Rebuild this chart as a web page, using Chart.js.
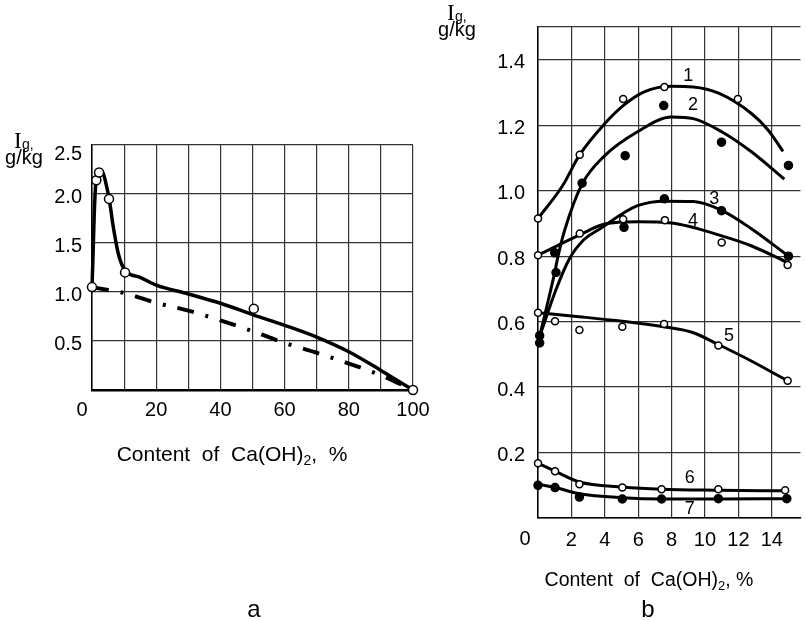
<!DOCTYPE html>
<html>
<head>
<meta charset="utf-8">
<script src="https://cdn.jsdelivr.net/npm/chart.js@4"></script>
<style>
  html, body { margin: 0; padding: 0; background: #fff; }
  #wrap { position: relative; width: 806px; height: 621px; overflow: hidden; }
  canvas { position: absolute; top: 0; }
  #ca { left: 0; }
  #cb { left: 430px; }
</style>
</head>
<body>
<div id="wrap">
  <canvas id="ca" width="440" height="621"></canvas>
  <canvas id="cb" width="376" height="621"></canvas>
</div>
<script>
// ---- panel a: I_g vs Ca(OH)2 content 0..100 % ----
const aXTicks = [0, 10, 20, 30, 40, 50, 60, 70, 80, 90, 100];
const aXLabels = ["0", "", "20", "", "40", "", "60", "", "80", "", "100"];
const aYTicks = [0, 0.5, 1, 1.5, 2, 2.5];
const aYLabels = ["", "0.5", "1.0", "1.5", "2.0", "2.5"];

const aCurve = [[0, 1.05], [0.3, 1.35], [0.7, 1.8], [1.2, 2.12], [1.8, 2.22], [2.4, 2.24],
                [3.5, 2.21], [4.6, 2.07], [5.4, 1.94], [6.6, 1.67], [8.2, 1.39], [10.3, 1.22],
                [15, 1.15], [20, 1.07], [30, 0.98], [40, 0.885], [50, 0.77], [60, 0.66],
                [70, 0.54], [80, 0.39], [90, 0.2], [100, 0]];
const aPoints = [[0, 1.05], [1.35, 2.14], [2.2, 2.22], [5.3, 1.95], [10.3, 1.2], [50.4, 0.83], [100, 0]];
const aDashed = [[0, 1.05], [5, 1.02], [10, 0.99], [20, 0.89], [30, 0.81], [40, 0.71], [50, 0.6],
                 [60, 0.48], [70, 0.38], [80, 0.27], [90, 0.15], [100, 0]];

// ---- panel b: I_g vs Ca(OH)2 content 0..15 %, curves 1..7 ----
const bXTicks = [0, 2, 4, 6, 8, 10, 12, 14];
const bXLabels = ["0", "2", "4", "6", "8", "10", "12", "14"];
const bYTicks = [0, 0.2, 0.4, 0.6, 0.8, 1.0, 1.2, 1.4, 1.5];
const bYLabels = ["", "0.2", "0.4", "0.6", "0.8", "1.0", "1.2", "1.4", ""];

const b1Curve = [[0, 0.915], [1.47, 1.015], [2.5, 1.11], [4, 1.205], [5.1, 1.26], [6.36, 1.302], [8, 1.319],
                 [9.3, 1.317], [10.85, 1.297], [12.8, 1.235], [13.8, 1.184], [14.67, 1.12]];
const b2Curve = [[0.1, 0.555], [1.0, 0.75], [1.2, 0.8], [1.6, 0.88], [2.64, 1.02], [4, 1.107], [5.96, 1.18],
                 [8, 1.225], [9.3, 1.22], [11, 1.18], [12.8, 1.118], [14.75, 1.035]];
const b3Curve = [[0.1, 0.555], [1.08, 0.698], [1.86, 0.79], [2.74, 0.85], [3.6, 0.88], [5.96, 0.954],
                 [7.6, 0.968], [9.3, 0.967], [11, 0.94], [12.8, 0.883], [15, 0.8]];
const b4Curve = [[0, 0.803], [2.5, 0.865], [4, 0.898], [5.96, 0.905], [8, 0.901], [11, 0.862],
                 [12.8, 0.831], [14.95, 0.78]];
const b5Curve = [[0, 0.627], [2.45, 0.615], [5.05, 0.601], [7.55, 0.584], [9.3, 0.566], [10.8, 0.53],
                 [12.8, 0.479], [14.95, 0.419]];
const b6Curve = [[0, 0.167], [1.02, 0.143], [2.48, 0.11], [5.05, 0.095], [7.4, 0.088], [10.8, 0.085], [14.8, 0.083]];
const b7Curve = [[0, 0.103], [1.02, 0.093], [2.48, 0.074], [5.05, 0.062], [7.4, 0.058], [10.8, 0.058], [14.9, 0.059]];

const b1Points = [[0, 0.915], [2.5, 1.11], [5.1, 1.28], [7.57, 1.317], [11.97, 1.28]];
const b2Points = [[0.1, 0.557], [1.08, 0.75], [2.64, 1.023], [5.22, 1.107], [7.53, 1.26], [10.99, 1.148], [15, 1.077]];
const b3Points = [[0.1, 0.535], [1.0, 0.81], [5.15, 0.888], [7.57, 0.975], [10.99, 0.939], [15, 0.8]];
const b4Points = [[0, 0.803], [2.5, 0.869], [5.1, 0.913], [7.6, 0.91], [11, 0.842], [14.95, 0.773]];
const b5Points = [[0, 0.627], [1.02, 0.601], [2.48, 0.574], [5.05, 0.584], [7.55, 0.593], [10.8, 0.527], [14.95, 0.419]];
const b6Points = [[0, 0.167], [1.02, 0.143], [2.48, 0.103], [5.05, 0.093], [7.4, 0.088], [10.8, 0.088], [14.8, 0.085]];
const b7Points = [[0, 0.1], [1.02, 0.093], [2.48, 0.064], [5.05, 0.058], [7.4, 0.058], [10.8, 0.059], [14.9, 0.059]];

// curve numbers, placed in data units
const bTags = [["1", 9.0, 1.351], ["2", 9.29, 1.263], ["3", 10.56, 0.975], ["4", 9.29, 0.908],
               ["5", 11.44, 0.555], ["6", 9.09, 0.121], ["7", 9.09, 0.026]];

const SANS = '"Liberation Sans", Arial, sans-serif';
const SERIF = '"Liberation Serif", "Times New Roman", serif';
const GRID = "#333";

Chart.defaults.font.family = SANS;
Chart.defaults.color = "#000";
Chart.defaults.animation = false;

const xy = pts => pts.map(([x, y]) => ({ x, y }));

const curve = (pts, extra = {}) => Object.assign({
  data: xy(pts), borderColor: "#000", borderWidth: 3, pointRadius: 0,
  cubicInterpolationMode: "monotone", fill: false, order: 2, clip: false,
}, extra);

const marks = (pts, filled, r) => ({
  data: xy(pts), showLine: false, pointRadius: r, pointHoverRadius: r,
  pointBackgroundColor: filled ? "#000" : "#fff", pointBorderColor: "#000",
  pointBorderWidth: 1.5, order: 1, clip: false,
});

// draws text made of pieces (for the Ca(OH)2 subscript), centred on cx
function drawParts(ctx, parts, cx, base) {
  ctx.textAlign = "left";
  ctx.textBaseline = "alphabetic";
  let w = 0;
  parts.forEach(p => { ctx.font = p.f; w += ctx.measureText(p.t).width; });
  let x = cx - w / 2;
  parts.forEach(p => {
    ctx.font = p.f;
    ctx.fillText(p.t, x, base + (p.dy || 0));
    x += ctx.measureText(p.t).width;
  });
}

function yTitle(ctx, x, base) {
  ctx.textAlign = "left";
  ctx.textBaseline = "alphabetic";
  ctx.font = `23px ${SERIF}`;
  ctx.fillText("I", x, base);
  ctx.font = `14px ${SANS}`;
  ctx.fillText("g,", x + 8, base + 1);
  ctx.font = `20px ${SANS}`;
  ctx.textAlign = "center";
  ctx.fillText("g/kg", x + 10, base + 16);
}

function axes(xTicks, xLabels, yTicks, yLabels, xMax, yMax, yWidth, xPad, yPad, xBorderW, topLabel) {
  return {
    x: {
      type: "linear", min: 0, max: xMax,
      afterBuildTicks: s => { s.ticks = xTicks.map(v => ({ value: v })); },
      afterFit: s => { s.height = 40; },
      ticks: { autoSkip: false, maxRotation: 0, padding: xPad, font: { size: 20 },
               callback: (v, i) => (i === 0 ? "" : xLabels[i]) },
      grid: { color: GRID, lineWidth: 1.2, drawTicks: false },
      border: { color: "#000", width: xBorderW },
    },
    y: {
      type: "linear", min: 0, max: yMax,
      afterBuildTicks: s => { s.ticks = yTicks.map(v => ({ value: v })); },
      afterFit: s => { s.width = yWidth; },
      ticks: { autoSkip: false, padding: yPad, labelOffset: 3, font: { size: 20 },
               callback: (v, i) => (topLabel && i === yTicks.length - 1 ? "" : yLabels[i]) },
      grid: { color: GRID, lineWidth: 1.2, drawTicks: false },
      border: { color: "#000", width: 1.5 },
    },
  };
}

const textA = {
  id: "textA",
  afterDraw(chart) {
    const { ctx, scales: { x, y } } = chart;
    ctx.save();
    ctx.fillStyle = "#000";
    ctx.font = `20px ${SANS}`;
    ctx.textAlign = "center";
    ctx.textBaseline = "middle";
    ctx.fillText(aXLabels[0], x.getPixelForValue(0) - 10, y.getPixelForValue(0) + 20);
    // top y label sits a little below its grid line in the original
    ctx.textAlign = "right";
    ctx.fillText(aYLabels[aYLabels.length - 1], x.left - 10, y.getPixelForValue(2.5) + 9);
    yTitle(ctx, 14, 148);
    drawParts(ctx, [
      { t: "Content  of  Ca(OH)", f: `21px ${SANS}` },
      { t: "2", f: `14px ${SANS}`, dy: 4 },
      { t: ",  %", f: `21px ${SANS}` },
    ], 232, 461);
    ctx.font = `24px ${SANS}`;
    ctx.textAlign = "center";
    ctx.fillText("a", 254, 617);
    ctx.restore();
  },
};

const textB = {
  id: "textB",
  afterDraw(chart) {
    const { ctx, scales: { x, y } } = chart;
    ctx.save();
    ctx.fillStyle = "#000";
    ctx.font = `20px ${SANS}`;
    ctx.textAlign = "center";
    ctx.textBaseline = "middle";
    ctx.fillText(bXLabels[0], x.getPixelForValue(0) - 13, y.getPixelForValue(0) + 21);
    ctx.font = `18px ${SANS}`;
    bTags.forEach(([t, vx, vy]) => ctx.fillText(t, x.getPixelForValue(vx), y.getPixelForValue(vy)));
    yTitle(ctx, 17, 20);
    drawParts(ctx, [
      { t: "Content  of  Ca(OH)", f: `19.5px ${SANS}` },
      { t: "2", f: `13px ${SANS}`, dy: 4 },
      { t: ", %", f: `19.5px ${SANS}` },
    ], 219, 586);
    ctx.font = `24px ${SANS}`;
    ctx.textAlign = "center";
    ctx.fillText("b", 218, 617);
    ctx.restore();
  },
};

new Chart(document.getElementById("ca"), {
  type: "line",
  data: {
    datasets: [
      marks(aPoints, false, 4.5),
      curve(aCurve, { borderWidth: 3.5 }),
      curve(aDashed, { borderWidth: 4, borderDash: [17, 12, 3, 12], borderCapStyle: "butt" }),
    ],
  },
  options: {
    responsive: false,
    layout: { padding: { left: 0, top: 145, right: 27, bottom: 191 } },
    plugins: { legend: { display: false }, tooltip: { enabled: false } },
    scales: axes(aXTicks, aXLabels, aYTicks, aYLabels, 100, 2.5, 92, 8, 10, 2.5, true),
  },
  plugins: [textA],
});

new Chart(document.getElementById("cb"), {
  type: "line",
  data: {
    datasets: [
      marks(b1Points, false, 3.5), marks(b2Points, true, 4), marks(b3Points, true, 4),
      marks(b4Points, false, 3.5), marks(b5Points, false, 3.5), marks(b6Points, false, 3.5),
      marks(b7Points, true, 4),
      curve(b1Curve), curve(b2Curve), curve(b3Curve), curve(b4Curve),
      curve(b5Curve), curve(b6Curve), curve(b7Curve),
    ],
  },
  options: {
    responsive: false,
    layout: { padding: { left: 0, top: 27, right: 0, bottom: 63 } },
    plugins: { legend: { display: false }, tooltip: { enabled: false } },
    scales: axes(bXTicks, bXLabels, bYTicks, bYLabels, 15.72, 1.5, 108, 10, 13, 1.5, false),
  },
  plugins: [textB],
});
</script>
</body>
</html>
